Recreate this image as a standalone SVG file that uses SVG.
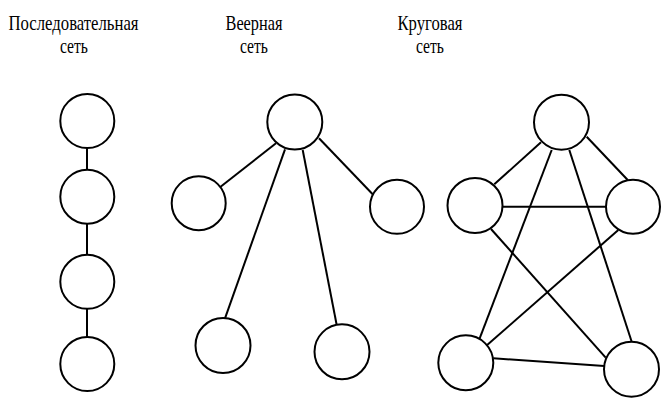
<svg xmlns="http://www.w3.org/2000/svg" width="669" height="408" viewBox="0 0 669 408">
<style>
.n{fill:#fff;stroke:#000;stroke-width:2}
.e{stroke:#000;stroke-width:2;fill:none}
.t{font-family:"Liberation Serif","Times New Roman",serif;font-size:22px;fill:#000;text-anchor:middle}
</style>
<rect width="669" height="408" fill="#fff"/>
<g id="labels">
<text class="t" x="73.5" y="30" textLength="130" lengthAdjust="spacingAndGlyphs">Последовательная</text>
<text class="t" x="74" y="53" textLength="28" lengthAdjust="spacingAndGlyphs">сеть</text>
<text class="t" x="254" y="30" textLength="57" lengthAdjust="spacingAndGlyphs">Веерная</text>
<text class="t" x="254" y="53" textLength="28" lengthAdjust="spacingAndGlyphs">сеть</text>
<text class="t" x="430" y="30" textLength="65" lengthAdjust="spacingAndGlyphs">Круговая</text>
<text class="t" x="430" y="53" textLength="28" lengthAdjust="spacingAndGlyphs">сеть</text>
</g>
<g id="connectors">
<line class="e" x1="87" y1="148" x2="87" y2="169"/>
<line class="e" x1="87" y1="224" x2="87" y2="254"/>
<line class="e" x1="87" y1="309" x2="87" y2="337"/>
<line class="e" x1="276" y1="143.3" x2="219.3" y2="187.7"/>
<line class="e" x1="285" y1="149.3" x2="225" y2="318.3"/>
<line class="e" x1="302.7" y1="150" x2="336.7" y2="325"/>
<line class="e" x1="319" y1="138.3" x2="372.7" y2="194.3"/>
<line class="e" x1="541" y1="142.3" x2="494.3" y2="184.3"/>
<line class="e" x1="586.7" y1="136.7" x2="627.7" y2="180"/>
<line class="e" x1="502.7" y1="206.7" x2="606" y2="206.7"/>
<line class="e" x1="551.7" y1="150" x2="479.3" y2="339.3"/>
<line class="e" x1="569.3" y1="150" x2="631.7" y2="341.7"/>
<line class="e" x1="491" y1="229" x2="605.7" y2="357.7"/>
<line class="e" x1="618.3" y1="230" x2="486" y2="346"/>
<line class="e" x1="493.3" y1="358.3" x2="604.3" y2="366"/>
</g>
<g id="s1"><circle class="n" cx="87.3" cy="121" r="27"/></g>
<g id="s2"><circle class="n" cx="87.3" cy="196.7" r="27"/></g>
<g id="s3"><circle class="n" cx="87.3" cy="281.8" r="27"/></g>
<g id="s4"><circle class="n" cx="87.3" cy="364" r="27"/></g>
<g id="f-top"><circle class="n" cx="294.8" cy="122" r="27.5"/></g>
<g id="f-left"><circle class="n" cx="198.7" cy="203.2" r="27"/></g>
<g id="f-right"><circle class="n" cx="397" cy="206.8" r="27"/></g>
<g id="f-bl"><circle class="n" cx="223" cy="345.5" r="27.5"/></g>
<g id="f-br"><circle class="n" cx="342" cy="351.8" r="27.5"/></g>
<g id="c-top"><circle class="n" cx="561.5" cy="122.2" r="27.5"/></g>
<g id="c-left"><circle class="n" cx="475" cy="205.5" r="27.5"/></g>
<g id="c-right"><circle class="n" cx="633" cy="206.7" r="27"/></g>
<g id="c-bl"><circle class="n" cx="465.8" cy="362.8" r="27.5"/></g>
<g id="c-br"><circle class="n" cx="631.5" cy="369.2" r="27.5"/></g>
</svg>
